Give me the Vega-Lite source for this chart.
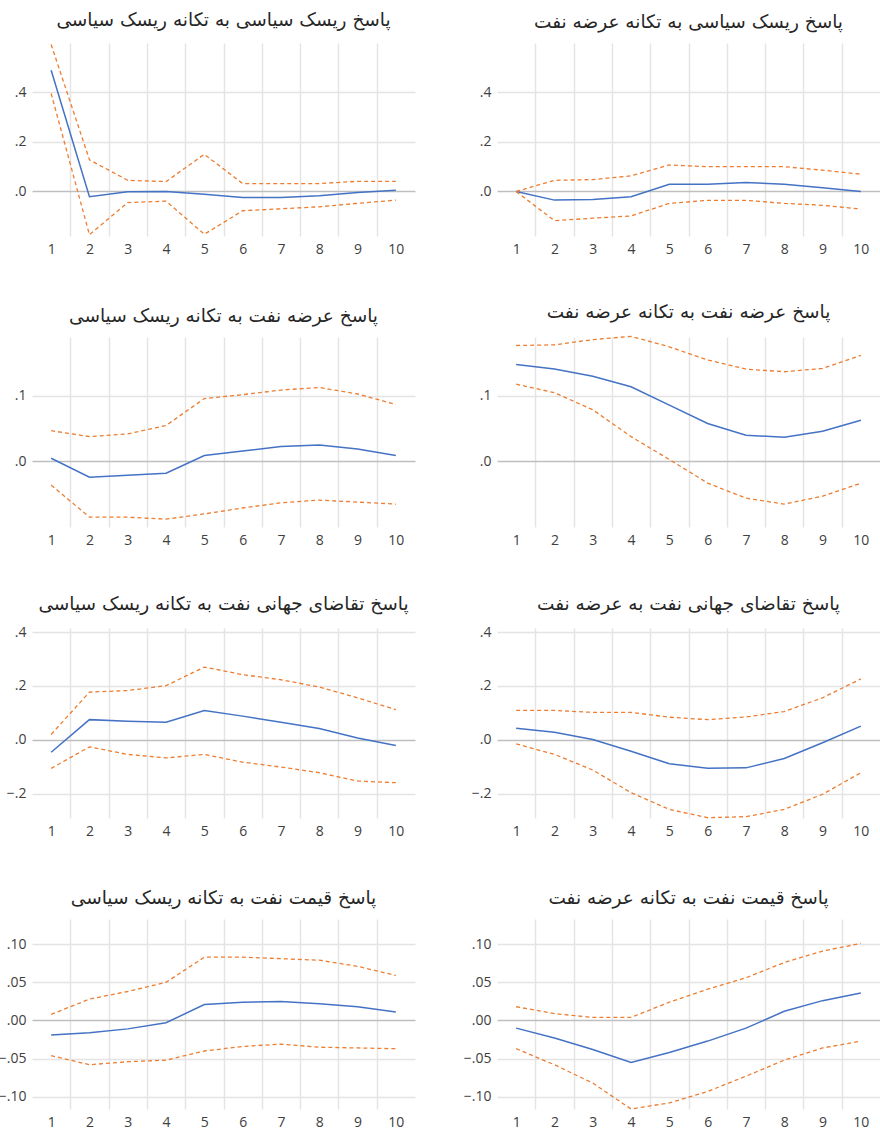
{
  "$schema": "https://vega.github.io/schema/vega-lite/v6.json",
  "background": "white",
  "padding": {"left": -2, "top": 11, "right": 0, "bottom": 0},
  "autosize": {"type": "pad"},
  "config": {
    "view": {"stroke": null},
    "axis": {"domain": false, "ticks": false, "labelFont": "Open Sans", "labelFontSize": 14, "labelColor": "#404040", "gridColor": "#e4e4e4", "gridWidth": 1.5},
    "axisX": {"labelPadding": 6},
    "axisY": {"labelPadding": 6},
    "title": {"font": "DejaVu Sans", "fontSize": 18.5, "fontWeight": "normal", "color": "#262626", "offset": 12, "anchor": "middle"}
  },
  "data": {"values": [
    {"panel": "A", "period": 1, "resp": 0.49, "lo": 0.396, "hi": 0.594},
    {"panel": "A", "period": 2, "resp": -0.021, "lo": -0.175, "hi": 0.128},
    {"panel": "A", "period": 3, "resp": -0.001, "lo": -0.045, "hi": 0.045},
    {"panel": "A", "period": 4, "resp": 0.0, "lo": -0.039, "hi": 0.04},
    {"panel": "A", "period": 5, "resp": -0.011, "lo": -0.173, "hi": 0.15},
    {"panel": "A", "period": 6, "resp": -0.024, "lo": -0.078, "hi": 0.032},
    {"panel": "A", "period": 7, "resp": -0.024, "lo": -0.07, "hi": 0.032},
    {"panel": "A", "period": 8, "resp": -0.017, "lo": -0.062, "hi": 0.032},
    {"panel": "A", "period": 9, "resp": -0.004, "lo": -0.048, "hi": 0.041},
    {"panel": "A", "period": 10, "resp": 0.005, "lo": -0.035, "hi": 0.041},
    {"panel": "B", "period": 1, "resp": 0.0, "lo": 0.0, "hi": 0.0},
    {"panel": "B", "period": 2, "resp": -0.035, "lo": -0.118, "hi": 0.045},
    {"panel": "B", "period": 3, "resp": -0.032, "lo": -0.108, "hi": 0.048},
    {"panel": "B", "period": 4, "resp": -0.021, "lo": -0.099, "hi": 0.063},
    {"panel": "B", "period": 5, "resp": 0.029, "lo": -0.048, "hi": 0.107},
    {"panel": "B", "period": 6, "resp": 0.029, "lo": -0.036, "hi": 0.1},
    {"panel": "B", "period": 7, "resp": 0.036, "lo": -0.036, "hi": 0.1},
    {"panel": "B", "period": 8, "resp": 0.029, "lo": -0.048, "hi": 0.1},
    {"panel": "B", "period": 9, "resp": 0.015, "lo": -0.056, "hi": 0.086},
    {"panel": "B", "period": 10, "resp": 0.0, "lo": -0.071, "hi": 0.07},
    {"panel": "C", "period": 1, "resp": 0.005, "lo": -0.036, "hi": 0.047},
    {"panel": "C", "period": 2, "resp": -0.024, "lo": -0.085, "hi": 0.038},
    {"panel": "C", "period": 3, "resp": -0.021, "lo": -0.085, "hi": 0.042},
    {"panel": "C", "period": 4, "resp": -0.018, "lo": -0.088, "hi": 0.055},
    {"panel": "C", "period": 5, "resp": 0.009, "lo": -0.08, "hi": 0.096},
    {"panel": "C", "period": 6, "resp": 0.016, "lo": -0.071, "hi": 0.102},
    {"panel": "C", "period": 7, "resp": 0.023, "lo": -0.063, "hi": 0.109},
    {"panel": "C", "period": 8, "resp": 0.025, "lo": -0.059, "hi": 0.113},
    {"panel": "C", "period": 9, "resp": 0.019, "lo": -0.062, "hi": 0.103},
    {"panel": "C", "period": 10, "resp": 0.009, "lo": -0.065, "hi": 0.087},
    {"panel": "D", "period": 1, "resp": 0.148, "lo": 0.118, "hi": 0.177},
    {"panel": "D", "period": 2, "resp": 0.141, "lo": 0.105, "hi": 0.178},
    {"panel": "D", "period": 3, "resp": 0.13, "lo": 0.079, "hi": 0.186},
    {"panel": "D", "period": 4, "resp": 0.114, "lo": 0.038, "hi": 0.191},
    {"panel": "D", "period": 5, "resp": 0.086, "lo": 0.003, "hi": 0.175},
    {"panel": "D", "period": 6, "resp": 0.058, "lo": -0.033, "hi": 0.155},
    {"panel": "D", "period": 7, "resp": 0.04, "lo": -0.056, "hi": 0.141},
    {"panel": "D", "period": 8, "resp": 0.037, "lo": -0.065, "hi": 0.137},
    {"panel": "D", "period": 9, "resp": 0.046, "lo": -0.053, "hi": 0.142},
    {"panel": "D", "period": 10, "resp": 0.063, "lo": -0.033, "hi": 0.162},
    {"panel": "E", "period": 1, "resp": -0.046, "lo": -0.106, "hi": 0.02},
    {"panel": "E", "period": 2, "resp": 0.075, "lo": -0.026, "hi": 0.177},
    {"panel": "E", "period": 3, "resp": 0.069, "lo": -0.054, "hi": 0.183},
    {"panel": "E", "period": 4, "resp": 0.065, "lo": -0.067, "hi": 0.201},
    {"panel": "E", "period": 5, "resp": 0.109, "lo": -0.054, "hi": 0.27},
    {"panel": "E", "period": 6, "resp": 0.088, "lo": -0.083, "hi": 0.242},
    {"panel": "E", "period": 7, "resp": 0.065, "lo": -0.101, "hi": 0.223},
    {"panel": "E", "period": 8, "resp": 0.042, "lo": -0.122, "hi": 0.196},
    {"panel": "E", "period": 9, "resp": 0.007, "lo": -0.153, "hi": 0.156},
    {"panel": "E", "period": 10, "resp": -0.021, "lo": -0.159, "hi": 0.112},
    {"panel": "F", "period": 1, "resp": 0.043, "lo": -0.015, "hi": 0.109},
    {"panel": "F", "period": 2, "resp": 0.028, "lo": -0.054, "hi": 0.109},
    {"panel": "F", "period": 3, "resp": 0.001, "lo": -0.112, "hi": 0.102},
    {"panel": "F", "period": 4, "resp": -0.042, "lo": -0.196, "hi": 0.102},
    {"panel": "F", "period": 5, "resp": -0.089, "lo": -0.258, "hi": 0.084},
    {"panel": "F", "period": 6, "resp": -0.105, "lo": -0.289, "hi": 0.075},
    {"panel": "F", "period": 7, "resp": -0.104, "lo": -0.285, "hi": 0.085},
    {"panel": "F", "period": 8, "resp": -0.069, "lo": -0.258, "hi": 0.105},
    {"panel": "F", "period": 9, "resp": -0.011, "lo": -0.202, "hi": 0.156},
    {"panel": "F", "period": 10, "resp": 0.051, "lo": -0.122, "hi": 0.226},
    {"panel": "G", "period": 1, "resp": -0.019, "lo": -0.046, "hi": 0.008},
    {"panel": "G", "period": 2, "resp": -0.016, "lo": -0.058, "hi": 0.028},
    {"panel": "G", "period": 3, "resp": -0.011, "lo": -0.054, "hi": 0.038},
    {"panel": "G", "period": 4, "resp": -0.003, "lo": -0.052, "hi": 0.05},
    {"panel": "G", "period": 5, "resp": 0.021, "lo": -0.04, "hi": 0.083},
    {"panel": "G", "period": 6, "resp": 0.024, "lo": -0.034, "hi": 0.083},
    {"panel": "G", "period": 7, "resp": 0.025, "lo": -0.031, "hi": 0.081},
    {"panel": "G", "period": 8, "resp": 0.022, "lo": -0.035, "hi": 0.079},
    {"panel": "G", "period": 9, "resp": 0.018, "lo": -0.036, "hi": 0.071},
    {"panel": "G", "period": 10, "resp": 0.011, "lo": -0.037, "hi": 0.059},
    {"panel": "H", "period": 1, "resp": -0.01, "lo": -0.037, "hi": 0.018},
    {"panel": "H", "period": 2, "resp": -0.023, "lo": -0.058, "hi": 0.009},
    {"panel": "H", "period": 3, "resp": -0.038, "lo": -0.082, "hi": 0.004},
    {"panel": "H", "period": 4, "resp": -0.055, "lo": -0.116, "hi": 0.004},
    {"panel": "H", "period": 5, "resp": -0.042, "lo": -0.108, "hi": 0.024},
    {"panel": "H", "period": 6, "resp": -0.027, "lo": -0.093, "hi": 0.041},
    {"panel": "H", "period": 7, "resp": -0.01, "lo": -0.073, "hi": 0.056},
    {"panel": "H", "period": 8, "resp": 0.012, "lo": -0.052, "hi": 0.076},
    {"panel": "H", "period": 9, "resp": 0.026, "lo": -0.036, "hi": 0.091},
    {"panel": "H", "period": 10, "resp": 0.036, "lo": -0.027, "hi": 0.101}
  ]},
  "columns": 2,
  "spacing": {"row": 101, "column": 82},
  "bounds": "flush",
  "align": "each",
  "concat": [
    {
      "width": 383, "height": 193,
      "title": {"text": "پاسخ ریسک سیاسی به تکانه ریسک سیاسی"},
      "transform": [{"filter": "datum.panel === 'A'"}],
      "encoding": {"x": {"field": "period", "type": "quantitative", "scale": {"domain": [0.5, 10.5], "nice": false, "zero": false}, "axis": {"title": null, "values": [1, 1.5, 2, 2.5, 3, 3.5, 4, 4.5, 5, 5.5, 6, 6.5, 7, 7.5, 8, 8.5, 9, 9.5, 10], "labelExpr": "datum.value % 1 === 0 ? format(datum.value, 'd') : ''", "labelOverlap": false, "gridOpacity": {"condition": {"test": "datum.value % 1 === 0", "value": 0}, "value": 1}}}},
      "layer": [
        {"mark": {"type": "line", "color": "#4472c4", "strokeWidth": 1.5}, "encoding": {"y": {"field": "resp", "type": "quantitative", "scale": {"domain": [-0.18, 0.6], "nice": false, "zero": false}, "axis": {"title": null, "values": [0, 0.2, 0.4], "labelExpr": "replace(format(datum.value, '.1f'), '0.', '.')", "gridColor": {"condition": {"test": "datum.value === 0", "value": "#bfbfbf"}, "value": "#e4e4e4"}}}}},
        {"mark": {"type": "line", "color": "#ed7d31", "strokeWidth": 1.3, "strokeDash": [4, 3]}, "encoding": {"y": {"field": "lo", "type": "quantitative", "axis": {"title": null}}}},
        {"mark": {"type": "line", "color": "#ed7d31", "strokeWidth": 1.3, "strokeDash": [4, 3]}, "encoding": {"y": {"field": "hi", "type": "quantitative", "axis": {"title": null}}}}
      ]
    },
    {
      "width": 383, "height": 193,
      "title": {"text": "پاسخ ریسک سیاسی به تکانه عرضه نفت"},
      "transform": [{"filter": "datum.panel === 'B'"}],
      "encoding": {"x": {"field": "period", "type": "quantitative", "scale": {"domain": [0.5, 10.5], "nice": false, "zero": false}, "axis": {"title": null, "values": [1, 1.5, 2, 2.5, 3, 3.5, 4, 4.5, 5, 5.5, 6, 6.5, 7, 7.5, 8, 8.5, 9, 9.5, 10], "labelExpr": "datum.value % 1 === 0 ? format(datum.value, 'd') : ''", "labelOverlap": false, "gridOpacity": {"condition": {"test": "datum.value % 1 === 0", "value": 0}, "value": 1}}}},
      "layer": [
        {"mark": {"type": "line", "color": "#4472c4", "strokeWidth": 1.5}, "encoding": {"y": {"field": "resp", "type": "quantitative", "scale": {"domain": [-0.18, 0.6], "nice": false, "zero": false}, "axis": {"title": null, "values": [0, 0.2, 0.4], "labelExpr": "replace(format(datum.value, '.1f'), '0.', '.')", "gridColor": {"condition": {"test": "datum.value === 0", "value": "#bfbfbf"}, "value": "#e4e4e4"}}}}},
        {"mark": {"type": "line", "color": "#ed7d31", "strokeWidth": 1.3, "strokeDash": [4, 3]}, "encoding": {"y": {"field": "lo", "type": "quantitative", "axis": {"title": null}}}},
        {"mark": {"type": "line", "color": "#ed7d31", "strokeWidth": 1.3, "strokeDash": [4, 3]}, "encoding": {"y": {"field": "hi", "type": "quantitative", "axis": {"title": null}}}}
      ]
    },
    {
      "width": 383, "height": 190,
      "title": {"text": "پاسخ عرضه نفت به تکانه ریسک سیاسی"},
      "transform": [{"filter": "datum.panel === 'C'"}],
      "encoding": {"x": {"field": "period", "type": "quantitative", "scale": {"domain": [0.5, 10.5], "nice": false, "zero": false}, "axis": {"title": null, "values": [1, 1.5, 2, 2.5, 3, 3.5, 4, 4.5, 5, 5.5, 6, 6.5, 7, 7.5, 8, 8.5, 9, 9.5, 10], "labelExpr": "datum.value % 1 === 0 ? format(datum.value, 'd') : ''", "labelOverlap": false, "gridOpacity": {"condition": {"test": "datum.value % 1 === 0", "value": 0}, "value": 1}}}},
      "layer": [
        {"mark": {"type": "line", "color": "#4472c4", "strokeWidth": 1.5}, "encoding": {"y": {"field": "resp", "type": "quantitative", "scale": {"domain": [-0.1, 0.19], "nice": false, "zero": false}, "axis": {"title": null, "values": [0, 0.1], "labelExpr": "replace(format(datum.value, '.1f'), '0.', '.')", "gridColor": {"condition": {"test": "datum.value === 0", "value": "#bfbfbf"}, "value": "#e4e4e4"}}}}},
        {"mark": {"type": "line", "color": "#ed7d31", "strokeWidth": 1.3, "strokeDash": [4, 3]}, "encoding": {"y": {"field": "lo", "type": "quantitative", "axis": {"title": null}}}},
        {"mark": {"type": "line", "color": "#ed7d31", "strokeWidth": 1.3, "strokeDash": [4, 3]}, "encoding": {"y": {"field": "hi", "type": "quantitative", "axis": {"title": null}}}}
      ]
    },
    {
      "width": 383, "height": 190,
      "title": {"text": "پاسخ عرضه نفت به تکانه عرضه نفت"},
      "transform": [{"filter": "datum.panel === 'D'"}],
      "encoding": {"x": {"field": "period", "type": "quantitative", "scale": {"domain": [0.5, 10.5], "nice": false, "zero": false}, "axis": {"title": null, "values": [1, 1.5, 2, 2.5, 3, 3.5, 4, 4.5, 5, 5.5, 6, 6.5, 7, 7.5, 8, 8.5, 9, 9.5, 10], "labelExpr": "datum.value % 1 === 0 ? format(datum.value, 'd') : ''", "labelOverlap": false, "gridOpacity": {"condition": {"test": "datum.value % 1 === 0", "value": 0}, "value": 1}}}},
      "layer": [
        {"mark": {"type": "line", "color": "#4472c4", "strokeWidth": 1.5}, "encoding": {"y": {"field": "resp", "type": "quantitative", "scale": {"domain": [-0.1, 0.19], "nice": false, "zero": false}, "axis": {"title": null, "values": [0, 0.1], "labelExpr": "replace(format(datum.value, '.1f'), '0.', '.')", "gridColor": {"condition": {"test": "datum.value === 0", "value": "#bfbfbf"}, "value": "#e4e4e4"}}}}},
        {"mark": {"type": "line", "color": "#ed7d31", "strokeWidth": 1.3, "strokeDash": [4, 3]}, "encoding": {"y": {"field": "lo", "type": "quantitative", "axis": {"title": null}}}},
        {"mark": {"type": "line", "color": "#ed7d31", "strokeWidth": 1.3, "strokeDash": [4, 3]}, "encoding": {"y": {"field": "hi", "type": "quantitative", "axis": {"title": null}}}}
      ]
    },
    {
      "width": 383, "height": 190,
      "title": {"text": "پاسخ تقاضای جهانی نفت به تکانه ریسک سیاسی"},
      "transform": [{"filter": "datum.panel === 'E'"}],
      "encoding": {"x": {"field": "period", "type": "quantitative", "scale": {"domain": [0.5, 10.5], "nice": false, "zero": false}, "axis": {"title": null, "values": [1, 1.5, 2, 2.5, 3, 3.5, 4, 4.5, 5, 5.5, 6, 6.5, 7, 7.5, 8, 8.5, 9, 9.5, 10], "labelExpr": "datum.value % 1 === 0 ? format(datum.value, 'd') : ''", "labelOverlap": false, "gridOpacity": {"condition": {"test": "datum.value % 1 === 0", "value": 0}, "value": 1}}}},
      "layer": [
        {"mark": {"type": "line", "color": "#4472c4", "strokeWidth": 1.5}, "encoding": {"y": {"field": "resp", "type": "quantitative", "scale": {"domain": [-0.29, 0.415], "nice": false, "zero": false}, "axis": {"title": null, "values": [-0.2, 0, 0.2, 0.4], "labelExpr": "replace(format(datum.value, '.1f'), '0.', '.')", "gridColor": {"condition": {"test": "datum.value === 0", "value": "#bfbfbf"}, "value": "#e4e4e4"}}}}},
        {"mark": {"type": "line", "color": "#ed7d31", "strokeWidth": 1.3, "strokeDash": [4, 3]}, "encoding": {"y": {"field": "lo", "type": "quantitative", "axis": {"title": null}}}},
        {"mark": {"type": "line", "color": "#ed7d31", "strokeWidth": 1.3, "strokeDash": [4, 3]}, "encoding": {"y": {"field": "hi", "type": "quantitative", "axis": {"title": null}}}}
      ]
    },
    {
      "width": 383, "height": 190,
      "title": {"text": "پاسخ تقاضای جهانی نفت به عرضه نفت"},
      "transform": [{"filter": "datum.panel === 'F'"}],
      "encoding": {"x": {"field": "period", "type": "quantitative", "scale": {"domain": [0.5, 10.5], "nice": false, "zero": false}, "axis": {"title": null, "values": [1, 1.5, 2, 2.5, 3, 3.5, 4, 4.5, 5, 5.5, 6, 6.5, 7, 7.5, 8, 8.5, 9, 9.5, 10], "labelExpr": "datum.value % 1 === 0 ? format(datum.value, 'd') : ''", "labelOverlap": false, "gridOpacity": {"condition": {"test": "datum.value % 1 === 0", "value": 0}, "value": 1}}}},
      "layer": [
        {"mark": {"type": "line", "color": "#4472c4", "strokeWidth": 1.5}, "encoding": {"y": {"field": "resp", "type": "quantitative", "scale": {"domain": [-0.29, 0.415], "nice": false, "zero": false}, "axis": {"title": null, "values": [-0.2, 0, 0.2, 0.4], "labelExpr": "replace(format(datum.value, '.1f'), '0.', '.')", "gridColor": {"condition": {"test": "datum.value === 0", "value": "#bfbfbf"}, "value": "#e4e4e4"}}}}},
        {"mark": {"type": "line", "color": "#ed7d31", "strokeWidth": 1.3, "strokeDash": [4, 3]}, "encoding": {"y": {"field": "lo", "type": "quantitative", "axis": {"title": null}}}},
        {"mark": {"type": "line", "color": "#ed7d31", "strokeWidth": 1.3, "strokeDash": [4, 3]}, "encoding": {"y": {"field": "hi", "type": "quantitative", "axis": {"title": null}}}}
      ]
    },
    {
      "width": 383, "height": 190,
      "title": {"text": "پاسخ قیمت نفت به تکانه ریسک سیاسی"},
      "transform": [{"filter": "datum.panel === 'G'"}],
      "encoding": {"x": {"field": "period", "type": "quantitative", "scale": {"domain": [0.5, 10.5], "nice": false, "zero": false}, "axis": {"title": null, "values": [1, 1.5, 2, 2.5, 3, 3.5, 4, 4.5, 5, 5.5, 6, 6.5, 7, 7.5, 8, 8.5, 9, 9.5, 10], "labelExpr": "datum.value % 1 === 0 ? format(datum.value, 'd') : ''", "labelOverlap": false, "gridOpacity": {"condition": {"test": "datum.value % 1 === 0", "value": 0}, "value": 1}}}},
      "layer": [
        {"mark": {"type": "line", "color": "#4472c4", "strokeWidth": 1.5}, "encoding": {"y": {"field": "resp", "type": "quantitative", "scale": {"domain": [-0.116, 0.133], "nice": false, "zero": false}, "axis": {"title": null, "values": [-0.1, -0.05, 0, 0.05, 0.1], "labelExpr": "replace(format(datum.value, '.2f'), '0.', '.')", "gridColor": {"condition": {"test": "datum.value === 0", "value": "#bfbfbf"}, "value": "#e4e4e4"}}}}},
        {"mark": {"type": "line", "color": "#ed7d31", "strokeWidth": 1.3, "strokeDash": [4, 3]}, "encoding": {"y": {"field": "lo", "type": "quantitative", "axis": {"title": null}}}},
        {"mark": {"type": "line", "color": "#ed7d31", "strokeWidth": 1.3, "strokeDash": [4, 3]}, "encoding": {"y": {"field": "hi", "type": "quantitative", "axis": {"title": null}}}}
      ]
    },
    {
      "width": 383, "height": 190,
      "title": {"text": "پاسخ قیمت نفت به تکانه عرضه نفت"},
      "transform": [{"filter": "datum.panel === 'H'"}],
      "encoding": {"x": {"field": "period", "type": "quantitative", "scale": {"domain": [0.5, 10.5], "nice": false, "zero": false}, "axis": {"title": null, "values": [1, 1.5, 2, 2.5, 3, 3.5, 4, 4.5, 5, 5.5, 6, 6.5, 7, 7.5, 8, 8.5, 9, 9.5, 10], "labelExpr": "datum.value % 1 === 0 ? format(datum.value, 'd') : ''", "labelOverlap": false, "gridOpacity": {"condition": {"test": "datum.value % 1 === 0", "value": 0}, "value": 1}}}},
      "layer": [
        {"mark": {"type": "line", "color": "#4472c4", "strokeWidth": 1.5}, "encoding": {"y": {"field": "resp", "type": "quantitative", "scale": {"domain": [-0.116, 0.133], "nice": false, "zero": false}, "axis": {"title": null, "values": [-0.1, -0.05, 0, 0.05, 0.1], "labelExpr": "replace(format(datum.value, '.2f'), '0.', '.')", "gridColor": {"condition": {"test": "datum.value === 0", "value": "#bfbfbf"}, "value": "#e4e4e4"}}}}},
        {"mark": {"type": "line", "color": "#ed7d31", "strokeWidth": 1.3, "strokeDash": [4, 3]}, "encoding": {"y": {"field": "lo", "type": "quantitative", "axis": {"title": null}}}},
        {"mark": {"type": "line", "color": "#ed7d31", "strokeWidth": 1.3, "strokeDash": [4, 3]}, "encoding": {"y": {"field": "hi", "type": "quantitative", "axis": {"title": null}}}}
      ]
    }
  ]
}
